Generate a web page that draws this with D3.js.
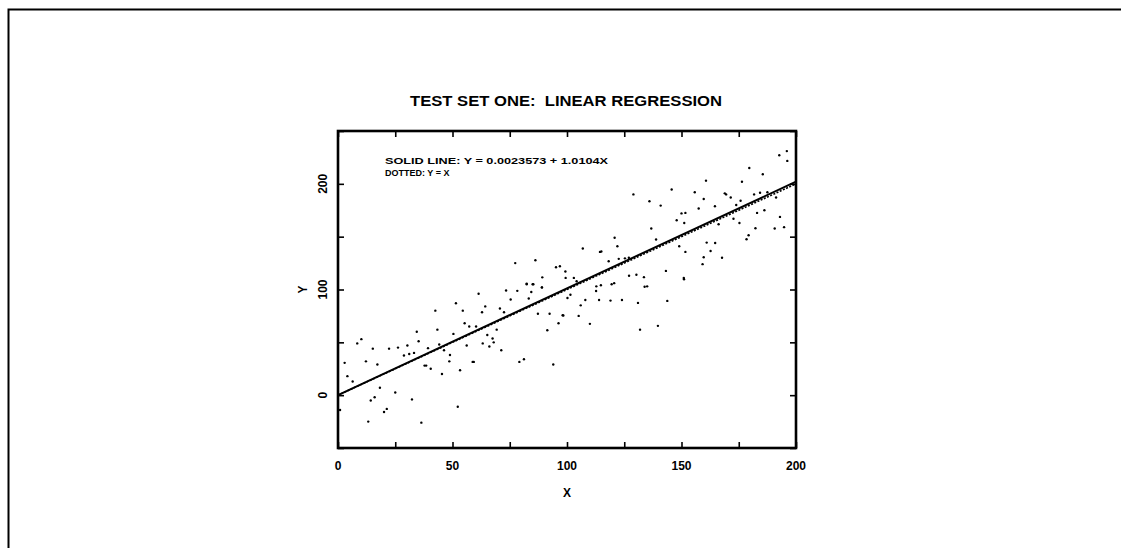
<!DOCTYPE html>
<html><head><meta charset="utf-8">
<script src="https://cdn.jsdelivr.net/npm/d3@7"></script>
<style>body{margin:0;background:#fff}svg{display:block}text{font-family:"Liberation Sans",Arial,sans-serif;fill:#000;white-space:pre}</style>
</head><body>
<script>
const title = "TEST SET ONE:  LINEAR REGRESSION";
const note1 = "SOLID LINE: Y = 0.0023573 + 1.0104X";
const note2 = "DOTTED: Y = X";
const xLabel = "X", yLabel = "Y";
const xDomain = [0, 200], yDomain = [-50, 250];
const xTickLabels = [0, 50, 100, 150, 200];
const yTickLabels = [0, 100, 200];
const xMinorTicks = [0,25,50,75,100,125,150,175,200];
const yMinorTicks = [-50,0,50,100,150,200,250];
const intercept = 0.0023573, slope = 1.0104;
const pointsX = [2.9,4.1,6.4,8.4,10.2,12.2,15.2,17.2,18.3,14.3,16,13.2,20.1,21.3,22.3,25,26.2,28.8,30.3,31.1,32.3,33.2,34.4,35.2,36.4,37.8,38.5,40.5,39.3,42.5,43.4,44.2,45.4,46.3,48.6,48.9,50.4,51.5,52.3,53.3,54.5,55.3,56.2,57.3,58.8,59.3,60.3,61.4,62.9,63.2,64.3,65.2,66.1,67.5,68,69.3,70.7,71.3,72.5,73.4,75.4,78.3,79.2,81.2,82.4,83.3,84.4,85.3,87.3,89.1,91.4,92.4,94,96.3,98.1,
192.7,196,196.2,179.6,185.5,176.4,160.7,145.7,155.8,129,136,140.9,159.7,168.9,169.5,171.5,173.9,175.8,181.7,184.3,187.5,191.3,157.5,164.6,151.7,150,147.9,151.2,166.2,175.3,172.7,183,186.2,193,190.7,194.8,182.3,179.3,178.4,136.8,138.9,120.8,114.4,115,122,106.9,122.6,125.3,127,118.2,149,151.7,162.7,164.7,161,159.7,167.7,159.2,143.2,151.1,135,103,104.2,99.3,127.1,130.3,133.6,119.5,112.8,
98.4,105.1,110,100.2,101.5,106,108,112.7,114,114.8,119,124,120.6,131,133.9,131.9,139.7,143.8,151,
77.4,86.2,95.2,96.9,99.4,89.2,82.4,85,89,0.9];
const pointsY = [30.6,18,13,49,53,32,44,29,7,-5,-2,-25,-16,-13,44,2.5,45,37.5,47,39,-4,40,60,51,-26,28,28,25,44.5,80,62,48,20,42.5,32,38,58,87,-11,23.6,80,68,47,65,31.5,31.5,65,96,78.5,49,84,57,46,53.6,50,62,82,42.5,78.5,99,90.5,98.7,31.5,34,105,91.5,97.7,105,77,102,61.5,77,29,68,75.7,
227,231,221.7,215,209,202,203,194.6,192,190,183.5,179.4,185.6,191,190,187,180,184,190,191.5,192,187,176.6,178.8,172.5,172,165.6,163,161.8,163,167,172.5,175,168.7,157.7,159,158,151.4,147.6,157.7,147.3,149,135.6,136,141,138.8,129,129.5,130,126.8,141,135.6,136.5,144,144.4,130.5,130,124,117.6,109.7,103,111,107.8,117,113,114,111.7,105,103,
75.4,75,67.5,92,95,85,90,98.6,90,104,89.5,90,106,87.3,102.6,62,65.6,89.2,111,
125,127.7,121,122,111,111.5,105.6,105,102,-14];

const W = 1121, H = 548;
const svg = d3.select("body").append("svg").attr("width", W).attr("height", H);

// outer scan frame (top and left edges)
svg.append("path").attr("d", `M8.5,${H} V9.5 H${W}`).attr("fill","none").attr("stroke","#000").attr("stroke-width",2);

const x = d3.scaleLinear().domain(xDomain).range([338, 796]);
const y = d3.scaleLinear().domain(yDomain).range([448, 131]);

const g = svg.append("g");

// points
const pts = d3.range(pointsX.length).map(i => [pointsX[i], pointsY[i]]);
g.selectAll("circle.pt").data(pts).enter().append("circle")
  .attr("cx", d => x(d[0])).attr("cy", d => y(d[1])).attr("r", 1.2).attr("fill","#000");

// lines
const line = d3.line().x(d => x(d[0])).y(d => y(d[1]));
g.append("path").attr("d", line(xDomain.map(v => [v, v])))
  .attr("fill","none").attr("stroke","#000").attr("stroke-width",1.6).attr("stroke-dasharray","2,1.5");
g.append("path").attr("d", line(xDomain.map(v => [v, intercept + slope * v])))
  .attr("fill","none").attr("stroke","#000").attr("stroke-width",2);

// axes (ticks inward)
const tl = 6;
g.append("g").attr("transform",`translate(0,${y(yDomain[0])})`)
  .call(d3.axisBottom(x).tickValues(xMinorTicks).tickSize(-tl).tickFormat(""));
g.append("g").attr("transform",`translate(0,${y(yDomain[1])})`)
  .call(d3.axisTop(x).tickValues(xMinorTicks).tickSize(-tl).tickFormat(""));
g.append("g").attr("transform",`translate(${x(xDomain[0])},0)`)
  .call(d3.axisLeft(y).tickValues(yMinorTicks).tickSize(-tl).tickFormat(""));
g.append("g").attr("transform",`translate(${x(xDomain[1])},0)`)
  .call(d3.axisRight(y).tickValues(yMinorTicks).tickSize(-tl).tickFormat(""));
g.selectAll(".domain").remove();
g.selectAll(".tick line").attr("stroke","#000").attr("stroke-width",1.6);

// frame
g.append("rect").attr("x", x(xDomain[0])).attr("y", y(yDomain[1]))
  .attr("width", x(xDomain[1]) - x(xDomain[0])).attr("height", y(yDomain[0]) - y(yDomain[1]))
  .attr("fill","none").attr("stroke","#000").attr("stroke-width",2.6);

// tick labels
g.selectAll("text.xl").data(xTickLabels).enter().append("text")
  .attr("x", d => x(d)).attr("y", 470).attr("text-anchor","middle")
  .attr("font-size", 12).attr("font-weight","bold").text(d => d);
g.selectAll("text.yl").data(yTickLabels).enter().append("text")
  .attr("transform", d => `translate(327,${y(d)}) rotate(-90)`).attr("text-anchor","middle")
  .attr("font-size", 12).attr("font-weight","bold").text(d => d);

// axis titles
svg.append("text").attr("x", x(100)).attr("y", 497).attr("text-anchor","middle")
  .attr("font-size", 12).attr("font-weight","bold").text(xLabel);
svg.append("text").attr("transform", `translate(307,${y(100)}) rotate(-90)`).attr("text-anchor","middle")
  .attr("font-size", 12).attr("font-weight","bold").text(yLabel);

// title
svg.append("text").attr("x", 410).attr("y", 106).attr("font-size", 14)
  .attr("font-weight","bold").attr("textLength", 312).attr("lengthAdjust","spacingAndGlyphs").text(title);

// annotations
svg.append("text").attr("x", 385).attr("y", 164).attr("font-size", 9).attr("font-weight","bold")
  .attr("textLength", 223).attr("lengthAdjust","spacingAndGlyphs").text(note1);
svg.append("text").attr("x", 385).attr("y", 176).attr("font-size", 9).attr("font-weight","bold")
  .text(note2);
</script>
</body></html>
